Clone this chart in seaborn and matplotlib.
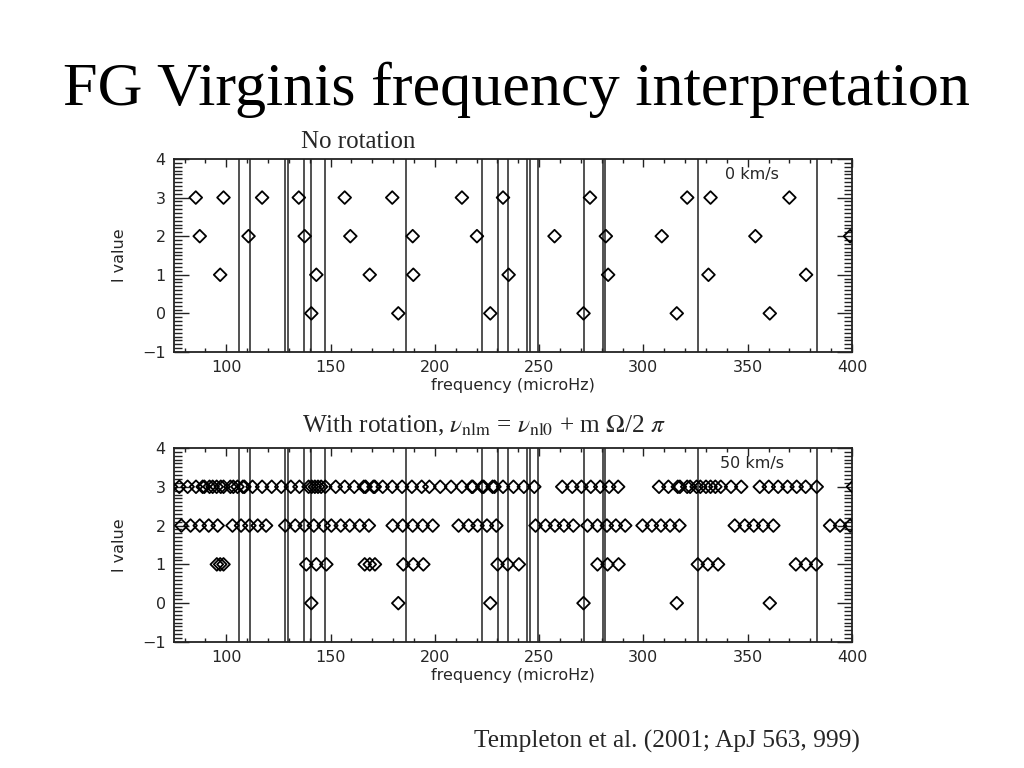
import pandas as pd
import seaborn as sns
import matplotlib.pyplot as plt
from matplotlib.ticker import MultipleLocator

# observed frequencies (vertical lines), microHz
observed = [105.9, 111.6, 128.4, 129.5, 137.1, 140.8, 147.2, 186.0, 222.8, 230.1,
            235.1, 244.3, 245.5, 249.4, 271.3, 280.4, 281.5, 326.4, 383.2]

# model frequencies, no rotation
norot_l0 = [140.8, 182.5, 226.6, 271.3, 316.0, 360.6]
norot_l1 = [97.1, 143.2, 168.8, 189.7, 235.4, 283.1, 331.2, 378.0]
norot_l2 = [87.3, 110.7, 137.6, 159.5, 189.4, 220.2, 257.4, 282.0, 308.8, 353.7, 399.1]
norot_l3 = [85.4, 98.7, 117.2, 134.8, 156.8, 179.6, 213.0, 232.7, 274.4, 321.0, 332.2, 370.0]

# model frequencies, 50 km/s rotation
rot_l0 = [140.8, 182.5, 226.6, 271.3, 316.0, 360.6]
rot_l1 = [95.5, 97.1, 98.7, 138.4, 143.2, 148.0, 166.4, 168.8, 171.3,
          184.9, 189.7, 194.5, 230.1, 234.9, 240.3, 278.0, 282.8, 288.1,
          326.1, 330.9, 335.8, 373.1, 377.9, 382.8]
rot_l2 = [78.5, 82.9, 87.3, 91.6, 95.9, 103.0, 107.1, 111.1, 115.1, 119.1,
          128.3, 133.1, 137.6, 142.0, 146.7, 150.4, 154.9, 159.2, 164.0, 168.4,
          179.8, 184.6, 189.4, 194.2, 199.0, 211.4, 216.2, 220.5, 225.0, 229.5,
          248.3, 253.1, 257.6, 261.9, 266.4, 273.2, 278.0, 282.5, 286.8, 291.3,
          299.6, 304.1, 308.4, 312.8, 317.3, 343.8, 348.6, 352.9, 357.4, 362.3,
          389.5, 394.3, 399.1, 403.9, 408.7]
rot_l3 = [73.5, 77.5, 81.5, 85.5, 88.7, 89.5, 92.0, 93.5, 95.4, 97.4, 98.7,
          102.0, 103.4, 105.4, 108.0, 108.7, 112.6, 117.2, 121.8, 126.4, 131.0,
          135.1, 139.5, 141.0, 142.5, 144.0, 145.5, 147.5, 152.5, 156.8, 161.4,
          166.0, 166.8, 170.6, 171.2, 175.0, 179.6, 184.3, 189.0, 193.7, 197.4,
          202.6, 207.8, 213.0, 217.7, 218.2, 222.7, 223.4, 227.7, 228.6, 232.7,
          237.7, 242.7, 247.7, 261.1, 265.9, 270.3, 274.8, 279.3, 283.6, 287.9,
          307.5, 312.0, 316.5, 317.5, 321.0, 322.4, 325.5, 327.3, 330.0, 332.2,
          334.5, 337.1, 342.0, 346.9, 355.8, 360.1, 364.6, 369.1, 373.5, 377.8,
          383.1, 400.5]


def to_frame(l0, l1, l2, l3):
    rows = []
    for l, freqs in enumerate([l0, l1, l2, l3]):
        for f in freqs:
            rows.append({"freq": f, "l": l})
    return pd.DataFrame(rows)


sns.set_style("ticks")
plt.rcParams["font.family"] = ["DejaVu Sans"]
plt.rcParams["mathtext.fontset"] = "stix"

fig = plt.figure(figsize=(10.24, 7.68), dpi=100)
serif = ["Liberation Serif", "DejaVu Serif"]

fig.text(0.504, 0.863, "FG Virginis frequency interpretation", ha="center",
         va="baseline", fontsize=44.8, family=serif, color="black")
fig.text(0.35, 0.807, "No rotation", ha="center", va="baseline", fontsize=18, family=serif)
fig.text(0.295, 0.4375, r"With rotation, $\nu_{\mathrm{nlm}}$ = $\nu_{\mathrm{nl0}}$ + m $\Omega$/2 $\pi$",
         ha="left", va="baseline", fontsize=18.2, family=serif)
fig.text(0.84, 0.026, "Templeton et al. (2001; ApJ 563, 999)", ha="right",
         va="baseline", fontsize=18.3, family=serif)

panels = [
    ([0.170, 0.5417, 0.662, 0.2513], to_frame(norot_l0, norot_l1, norot_l2, norot_l3), "0 km/s"),
    ([0.170, 0.1641, 0.662, 0.2526], to_frame(rot_l0, rot_l1, rot_l2, rot_l3), "50 km/s"),
]

for rect, df, label in panels:
    ax = fig.add_axes(rect)
    for f in observed:
        ax.axvline(f, color="#222222", lw=1.1, zorder=1)
    sns.scatterplot(data=df, x="freq", y="l", marker="D", s=42, facecolor="none",
                    edgecolor="black", linewidth=1.3, ax=ax, legend=False, zorder=3)
    ax.set_xlim(75, 400)
    ax.set_ylim(-1, 4)
    ax.xaxis.set_major_locator(MultipleLocator(50))
    ax.xaxis.set_minor_locator(MultipleLocator(10))
    ax.yaxis.set_major_locator(MultipleLocator(1))
    ax.yaxis.set_minor_locator(MultipleLocator(0.1))
    ax.tick_params(which="both", direction="in", top=True, right=True,
                   labelsize=11.5, width=1.0, color="#222222")
    ax.tick_params(axis="x", which="major", length=6, pad=6)
    ax.tick_params(axis="x", which="minor", length=3)
    ax.tick_params(axis="y", which="major", length=11, pad=6)
    ax.tick_params(axis="y", which="minor", length=6)
    for sp in ax.spines.values():
        sp.set_linewidth(1.3)
        sp.set_color("#222222")
    ax.set_xlabel("frequency (microHz)", fontsize=11.5, labelpad=2)
    ax.set_ylabel("l value", fontsize=11.5, labelpad=11)
    ax.text(352, 3.6, label, ha="center", va="center", fontsize=11.5)

fig.savefig("out.png", dpi=100)
